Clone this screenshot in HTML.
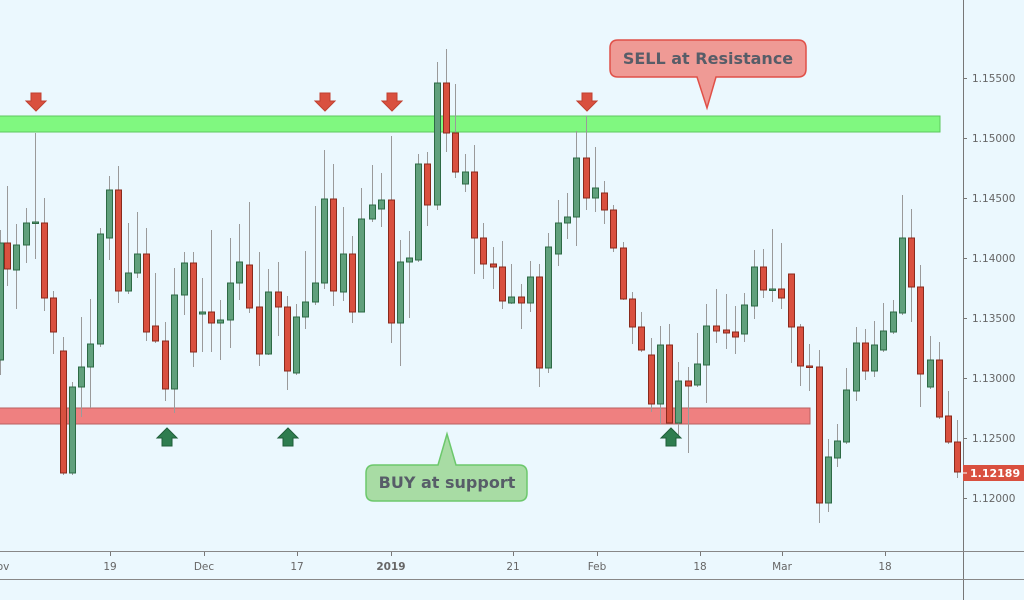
<!DOCTYPE html>
<html><head><meta charset="utf-8"><style>
html,body{margin:0;padding:0;background:#ebf8fe;}
svg{display:block;font-family:"DejaVu Sans","Liberation Sans",sans-serif;}
</style></head><body>
<svg id="s" width="1024" height="600" viewBox="0 0 1024 600" xmlns="http://www.w3.org/2000/svg">
<rect width="1024" height="600" fill="#ebf8fe"/>
<!-- bands -->
<rect x="-2" y="116" width="942" height="16" fill="#80f880" stroke="#5ec85e" stroke-width="1"/>
<rect x="-2" y="408" width="812" height="16" fill="#ef8080" stroke="#b86060" stroke-width="1"/>
<g id="c"></g>
<!-- axes -->
<line x1="963.5" y1="0" x2="963.5" y2="600" stroke="#777" stroke-width="1"/>
<line x1="0" y1="551.5" x2="1024" y2="551.5" stroke="#888" stroke-width="1"/>
<line x1="0" y1="579.5" x2="1024" y2="579.5" stroke="#888" stroke-width="1"/>
<g font-size="10.5" fill="#666">
<g id="yt"></g>
</g>
<g font-size="10.5" fill="#666" text-anchor="middle">
<text x="3" y="570">ov</text><line x1="110.5" y1="552" x2="110.5" y2="556" stroke="#777"/><text x="110" y="570">19</text>
<line x1="204.5" y1="552" x2="204.5" y2="556" stroke="#777"/><text x="204" y="570">Dec</text>
<line x1="297.5" y1="552" x2="297.5" y2="556" stroke="#777"/><text x="297" y="570">17</text>
<line x1="391.5" y1="552" x2="391.5" y2="556" stroke="#777"/><text x="391" y="570" font-weight="bold">2019</text>
<line x1="513.5" y1="552" x2="513.5" y2="556" stroke="#777"/><text x="513" y="570">21</text>
<line x1="597.5" y1="552" x2="597.5" y2="556" stroke="#777"/><text x="597" y="570">Feb</text>
<line x1="700.5" y1="552" x2="700.5" y2="556" stroke="#777"/><text x="700" y="570">18</text>
<line x1="782.5" y1="552" x2="782.5" y2="556" stroke="#777"/><text x="782" y="570">Mar</text>
<line x1="885.5" y1="552" x2="885.5" y2="556" stroke="#777"/><text x="885" y="570">18</text>
</g>
<rect x="963" y="465" width="61" height="16" fill="#d9503f"/>
<line x1="963" y1="473" x2="967" y2="473" stroke="#fff"/>
<text x="970" y="477" font-size="11" font-weight="bold" fill="#fff">1.12189</text>
<!-- arrows -->
<g id="ar"></g>
<!-- callouts -->
<path d="M618 40 H798 Q806 40 806 48 V69 Q806 77 798 77 H716 L707 108 L697 77 H618 Q610 77 610 69 V48 Q610 40 618 40 Z" fill="#ef9a95" stroke="#e05048" stroke-width="1.5"/>
<text x="708" y="64" font-size="16" font-weight="bold" fill="#575d68" text-anchor="middle">SELL at Resistance</text>
<path d="M374 465 H438 L447 434 L456 465 H519 Q527 465 527 473 V493 Q527 501 519 501 H374 Q366 501 366 493 V473 Q366 465 374 465 Z" fill="#a8dca4" stroke="#6cc86c" stroke-width="1.5"/>
<text x="447" y="488" font-size="16" font-weight="bold" fill="#575d68" text-anchor="middle">BUY at support</text>
</svg>
<script>
var d=[
[0,'g',243,360,230,375],
[7,'r',243,269,186,286],[16,'g',245,270,224,309],[26,'g',223,245,208,263],[35,'d',222,222,133,259],
[44,'r',223,298,198,311],[53,'r',298,332,291,354],[63,'r',351,473,337,475],[72,'g',387,473,382,475],
[81,'g',367,387,317,417],[90,'g',344,367,299,408],[100,'g',234,344,228,347],[109,'g',190,238,176,260],
[118,'r',190,291,166,303],[128,'g',273,291,223,294],[137,'g',254,273,212,278],[146,'r',254,332,228,341],
[155,'r',326,341,273,343],[165,'r',341,389,322,401],[174,'g',295,389,268,413],[184,'g',263,295,252,315],
[193,'r',263,352,252,367],[202,'g',312,314,278,352],[211,'r',312,323,230,352],[220,'g',320,323,300,360],
[230,'g',283,320,238,348],[239,'g',262,283,224,300],[249,'r',265,308,202,313],[259,'r',307,354,252,366],
[268,'g',292,354,269,355],[278,'r',292,307,262,336],[287,'r',307,371,296,390],[296,'g',317,373,304,375],
[305,'g',302,317,251,329],[315,'g',283,302,206,305],[324,'g',199,283,150,289],[333,'r',199,291,164,306],
[343,'g',254,292,207,301],[352,'r',254,312,236,323],[361,'g',219,312,188,312],[372,'g',205,219,165,222],
[381,'g',200,209,173,227],[391,'r',200,323,136,343],[400,'g',262,323,240,366],[409,'g',258,262,231,318],
[418,'g',164,260,154,262],[427,'r',164,205,152,226],[437,'g',83,205,62,210],[446,'r',83,133,49,152],
[455,'r',133,172,84,178],[465,'g',172,184,154,192],[474,'r',172,238,145,274],[483,'r',238,264,223,279],
[493,'r',264,267,247,289],[502,'r',267,301,241,309],[511,'g',297,303,264,304],[521,'r',297,303,284,329],
[530,'g',277,303,261,312],[539,'r',277,368,264,387],[548,'g',247,368,233,373],[558,'g',223,254,200,266],
[567,'g',217,223,193,239],[576,'g',158,217,131,246],[586,'r',158,198,116,210],[595,'g',188,198,147,212],
[604,'r',193,210,181,224],[613,'r',210,248,205,252],[623,'r',248,299,242,300],[632,'r',299,327,292,344],
[641,'r',327,350,312,352],[651,'r',355,404,338,412],[660,'g',345,404,326,424],[669,'r',345,423,324,423],
[678,'g',381,423,362,435],[688,'r',381,386,367,453],[697,'g',364,385,333,387],[706,'g',326,365,304,403],
[716,'r',326,331,289,343],[726,'r',330,333,294,349],[735,'r',332,337,306,354],[744,'g',305,334,293,342],
[754,'g',267,306,250,319],[763,'r',267,290,249,298],[772,'d',289,289,229,302],[781,'r',289,298,243,309],
[791,'r',274,327,274,363],[800,'r',327,366,324,386],[809,'r',366,367,344,391],[819,'r',367,503,350,523],
[828,'g',457,503,439,512],[837,'g',441,458,424,467],[846,'g',390,442,368,444],[856,'g',343,391,327,401],
[865,'r',343,371,329,380],[874,'g',345,371,321,377],[883,'g',331,350,303,352],[893,'g',312,332,300,334],
[902,'g',238,313,195,315],[911,'r',238,287,209,322],[920,'r',287,374,265,407],[930,'g',360,387,336,389],
[939,'r',360,417,342,419],[948,'r',416,442,391,444],[957,'r',442,472,420,478]];
var c=document.getElementById('c'),h='';
d.forEach(function(k){var x=k[0];
h+='<line x1="'+(x+0.5)+'" y1="'+k[4]+'" x2="'+(x+0.5)+'" y2="'+k[5]+'" stroke="#9a9a9a" stroke-width="1"/>';
var fill=k[1]=='r'?'#d9503f':'#60a07c',st=k[1]=='r'?'#8a2a1c':'#2d6a45';
var hh=Math.max(k[3]-k[2],1.5);
h+='<rect x="'+(x-2.5)+'" y="'+k[2]+'" width="6" height="'+hh+'" fill="'+fill+'" stroke="'+st+'" stroke-width="1"/>';});
c.innerHTML=h;
var yt='',pr=['1.15500','1.15000','1.14500','1.14000','1.13500','1.13000','1.12500','1.12000'];
pr.forEach(function(p,i){var y=78+i*60;yt+='<line x1="963" y1="'+(y+0.5)+'" x2="967" y2="'+(y+0.5)+'" stroke="#777"/><text x="972" y="'+(y+4)+'">'+p+'</text>';});
document.getElementById('yt').innerHTML=yt;
var a='';
[36,325,392,587].forEach(function(x){a+='<path d="M'+(x-5)+' 93 H'+(x+5)+' V101 H'+(x+10)+' L'+x+' 111 L'+(x-10)+' 101 H'+(x-5)+' Z" fill="#d9503f" stroke="#c04030" stroke-width="1"/>';});
[167,288,671].forEach(function(x){a+='<path d="M'+(x-5)+' 446 H'+(x+5)+' V438 H'+(x+10)+' L'+x+' 428 L'+(x-10)+' 438 H'+(x-5)+' Z" fill="#2e7d4f" stroke="#1f5e3a" stroke-width="1"/>';});
document.getElementById('ar').innerHTML=a;
</script>
</body></html>
